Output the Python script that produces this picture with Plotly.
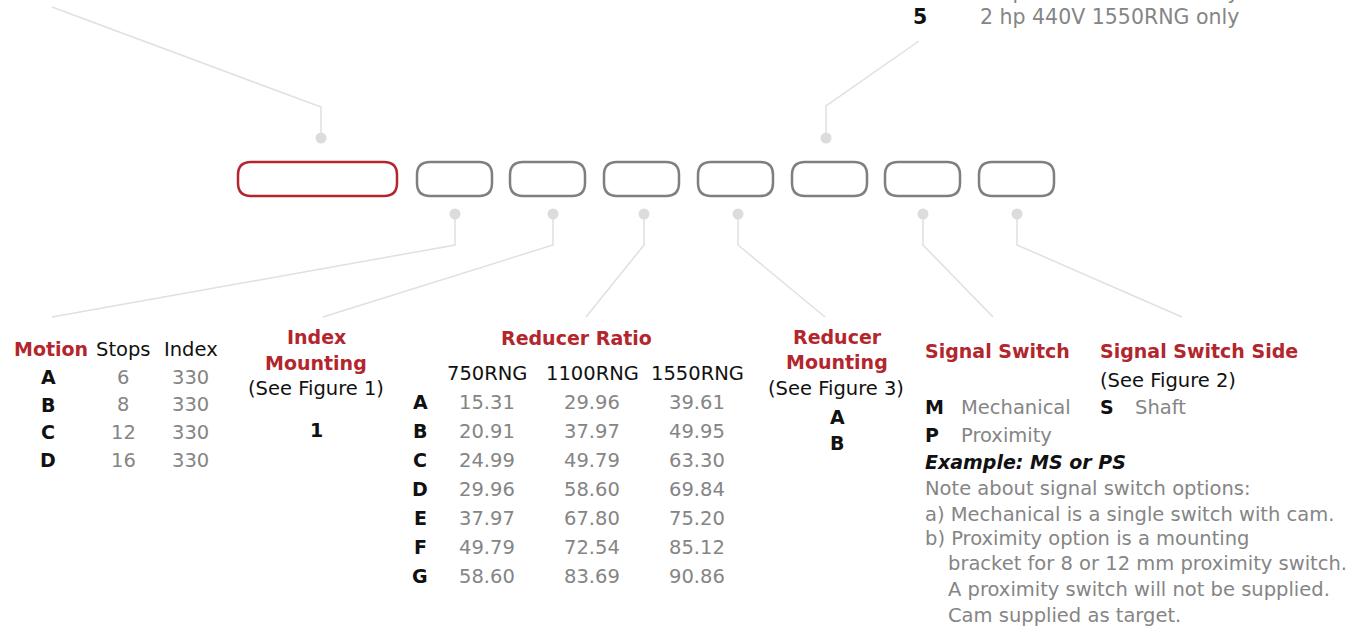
import plotly.graph_objects as go

# ---------------- data ----------------
motion_codes = ["A", "B", "C", "D"]
motion_stops = ["6", "8", "12", "16"]
motion_index = ["330", "330", "330", "330"]

index_mounting_codes = ["1"]

ratio_codes = ["A", "B", "C", "D", "E", "F", "G"]
ratio_models = ["750RNG", "1100RNG", "1550RNG"]
ratio_750 = ["15.31", "20.91", "24.99", "29.96", "37.97", "49.79", "58.60"]
ratio_1100 = ["29.96", "37.97", "49.79", "58.60", "67.80", "72.54", "83.69"]
ratio_1550 = ["39.61", "49.95", "63.30", "69.84", "75.20", "85.12", "90.86"]

reducer_mount_codes = ["A", "B"]

switch_codes = ["M", "P"]
switch_names = ["Mechanical", "Proximity"]
side_codes = ["S"]
side_names = ["Shaft"]

motor_codes = ["4", "5"]
motor_names = ["1 hp 440V 1550RNG only", "2 hp 440V 1550RNG only"]

notes = [
    "Note about signal switch options:",
    "a) Mechanical is a single switch with cam.",
    "b) Proximity option is a mounting",
    "   bracket for 8 or 12 mm proximity switch.",
    "   A proximity switch will not be supplied.",
    "   Cam supplied as target.",
]

# ---------------- styles ----------------
RED = "#b3262d"
BLACK = "#111111"
GRAY = "#858585"
BOXGRAY = "#7f7f7f"
LINEGRAY = "#e0e0e0"
DOTGRAY = "#dcdcdf"
FONT = "DejaVu Sans"
FS = 19.5
FSB = 19

W, H = 1362, 627
fig = go.Figure()
annotations = []
shapes = []


def txt(x, y, s, color=GRAY, size=None, bold=False, italic=False, anchor="center", yshift=0):
    if size is None:
        size = FSB if bold else FS
    if italic:
        s = "<i>" + s + "</i>"
    annotations.append(dict(
        x=x, y=y, xref="x", yref="y", text=s, showarrow=False,
        xanchor=anchor, yanchor="middle", yshift=yshift,
        font=dict(family=FONT, size=size, color=color,
                  weight="bold" if bold else "normal"),
    ))


# ---------------- boxes ----------------
def rbox(x0, x1, y0, y1, r, color):
    p = (f"M {x0+r},{y0} L {x1-r},{y0} Q {x1},{y0} {x1},{y0+r} "
         f"L {x1},{y1-r} Q {x1},{y1} {x1-r},{y1} L {x0+r},{y1} "
         f"Q {x0},{y1} {x0},{y1-r} L {x0},{y0+r} Q {x0},{y0} {x0+r},{y0} Z")
    shapes.append(dict(type="path", path=p, xref="x", yref="y",
                       line=dict(color=color, width=2.5), layer="above"))


rbox(238, 397, 162, 196, 13, RED)
box_lefts = [417, 510, 604, 698, 792, 885, 979]
for bl in box_lefts:
    rbox(bl, bl + 75, 162, 196, 13, BOXGRAY)

# ---------------- leader lines ----------------
leaders = [
    [(52, 7), (321, 107), (321, 138)],
    [(919, 41), (826, 106), (826, 138)],
    [(455, 214), (455, 245), (52, 317)],
    [(553, 214), (553, 245), (323, 317)],
    [(644, 214), (644, 245), (586, 317)],
    [(738, 214), (738, 245), (825, 317)],
    [(923, 214), (923, 245), (993, 317)],
    [(1017, 214), (1017, 245), (1182, 317)],
]
for pts in leaders:
    fig.add_trace(go.Scatter(x=[p[0] for p in pts], y=[p[1] for p in pts],
                             mode="lines", line=dict(color=LINEGRAY, width=1.5),
                             hoverinfo="skip", showlegend=False))
dots_x = [321, 826, 455, 553, 644, 738, 923, 1017]
dots_y = [138, 138, 214, 214, 214, 214, 214, 214]
fig.add_trace(go.Scatter(x=dots_x, y=dots_y, mode="markers",
                         marker=dict(color=DOTGRAY, size=11),
                         hoverinfo="skip", showlegend=False))

# ---------------- top right motor text ----------------
# first line sits mostly above the page edge (only descenders visible)
txt(920, 1, motor_codes[0], BLACK, size=20.5, bold=True, yshift=9)
txt(978, 1, motor_names[0], GRAY, size=20.5, anchor="left", yshift=9)
txt(920, 17, motor_codes[1], BLACK, size=20.5, bold=True)
txt(978, 17, motor_names[1], GRAY, size=20.5, anchor="left")

# ---------------- Motion ----------------
txt(12, 349, "Motion", RED, bold=True, anchor="left")
txt(123, 349, "Stops", BLACK)
txt(191, 349, "Index", BLACK)
for i in range(len(motion_codes)):
    yy = 377 + i * 27.7
    txt(48, yy, motion_codes[i], BLACK, bold=True)
    txt(123, yy, motion_stops[i], GRAY)
    txt(190, yy, motion_index[i], GRAY)

# ---------------- Index Mounting ----------------
txt(316, 337, "Index", RED, bold=True)
txt(316, 363, "Mounting", RED, bold=True)
txt(316, 388, "(See Figure 1)", BLACK)
for i, c in enumerate(index_mounting_codes):
    txt(316, 430 + i * 27, c, BLACK, bold=True)

# ---------------- Reducer Ratio ----------------
txt(576, 338, "Reducer Ratio", RED, bold=True)
col_x = [487, 592, 697]
for cx, m in zip(col_x, ratio_models):
    txt(cx, 373, m, BLACK)
for i in range(len(ratio_codes)):
    yy = 402 + i * 29
    txt(420, yy, ratio_codes[i], BLACK, bold=True)
    for cx, col in zip(col_x, [ratio_750, ratio_1100, ratio_1550]):
        txt(cx, yy, col[i], GRAY)

# ---------------- Reducer Mounting ----------------
txt(837, 337, "Reducer", RED, bold=True)
txt(837, 362, "Mounting", RED, bold=True)
txt(836, 388, "(See Figure 3)", BLACK)
for i, c in enumerate(reducer_mount_codes):
    txt(837, 417 + i * 26, c, BLACK, bold=True)

# ---------------- Signal Switch ----------------
txt(923, 351, "Signal Switch", RED, bold=True, anchor="left")
for i in range(len(switch_codes)):
    yy = 407 + i * 28
    txt(923, yy, switch_codes[i], BLACK, bold=True, anchor="left")
    txt(959, yy, switch_names[i], GRAY, anchor="left")

txt(1098, 351, "Signal Switch Side", RED, bold=True, anchor="left")
txt(1098, 380, "(See Figure 2)", BLACK, anchor="left")
for i in range(len(side_codes)):
    txt(1098, 407, side_codes[i], BLACK, bold=True, anchor="left")
    txt(1133, 407, side_names[i], GRAY, anchor="left")

txt(923, 462, "Example: MS or PS", BLACK, bold=True, italic=True, anchor="left")
note_y = [488, 514, 538, 563, 589, 615]
for yy, s in zip(note_y, notes):
    if s.startswith("   "):
        txt(946, yy, s.strip(), GRAY, anchor="left")
    else:
        txt(923, yy, s, GRAY, anchor="left")

fig.update_layout(
    width=W, height=H,
    margin=dict(l=0, r=0, t=0, b=0),
    paper_bgcolor="white", plot_bgcolor="white",
    xaxis=dict(range=[0, W], visible=False, fixedrange=True),
    yaxis=dict(range=[H, 0], visible=False, fixedrange=True),
    shapes=shapes, annotations=annotations,
    showlegend=False,
)
fig.write_html("out.html",
               config={"displayModeBar": False, "staticPlot": True},
               post_script="document.body.style.margin='0';document.body.style.overflow='hidden';")
